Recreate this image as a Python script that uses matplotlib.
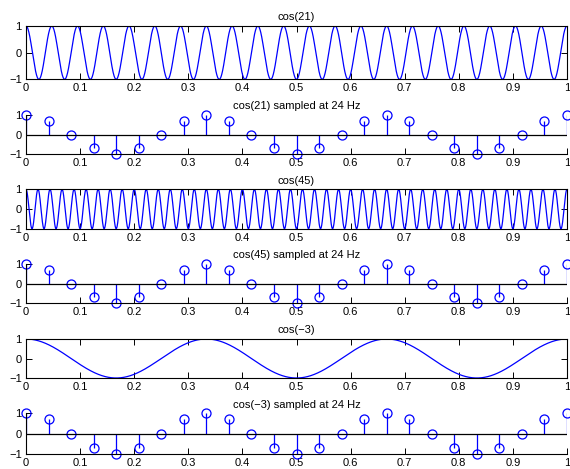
import numpy as np
import matplotlib
matplotlib.use("Agg")
import matplotlib.pyplot as plt

plt.rcParams['font.family'] = ['Liberation Sans', 'DejaVu Sans']
plt.rcParams['axes.unicode_minus'] = True

# Data
frequencies = [21, 45, -3]
curve_titles = ["cos(21)", "cos(45)", "cos(\u22123)"]
sampled_titles = ["cos(21) sampled at 24 Hz", "cos(45) sampled at 24 Hz", "cos(\u22123) sampled at 24 Hz"]
sample_rate = 24
sampled_values = [1, 0.71, 0, -0.71, -1, -0.71, 0, 0.71,
                  1, 0.71, 0, -0.71, -1, -0.71, 0, 0.71,
                  1, 0.71, 0, -0.71, -1, -0.71, 0, 0.71, 1]
x_ticks = [0, 0.1, 0.2, 0.3, 0.4, 0.5, 0.6, 0.7, 0.8, 0.9, 1]
x_tick_labels = ["0", "0.1", "0.2", "0.3", "0.4", "0.5", "0.6", "0.7", "0.8", "0.9", "1"]
y_ticks = [-1, 0, 1]
y_tick_labels = ["\u22121", "0", "1"]

W, H = 570, 469
fig = plt.figure(figsize=(W / 100, H / 100), dpi=100)

left_px, right_px = 26, 567
# (top, bottom) pixel rows of the y-range [-1, 1] for each panel
rows = [(26, 79.3), (115, 154), (189.3, 228.7), (264, 303), (339, 378), (413.3, 454.3)]

BLUE = (0, 0, 1)
FS = 8

def make_ax(top, bottom):
    return fig.add_axes([left_px / W, 1 - bottom / H, (right_px - left_px) / W, (bottom - top) / H])

t = np.linspace(0, 1, 4000)
samp_t = np.arange(len(sampled_values)) / sample_rate

for k in range(3):
    # continuous curve
    ax = make_ax(*rows[2 * k])
    ax.plot(t, np.cos(2 * np.pi * frequencies[k] * t), color=BLUE, lw=0.9)
    ax.set_xlim(0, 1)
    ax.set_ylim(-1, 1)
    ax.set_xticks(x_ticks)
    ax.set_xticklabels(x_tick_labels)
    ax.set_yticks(y_ticks)
    ax.set_yticklabels(y_tick_labels)
    ax.tick_params(direction='in', length=4, width=0.7, labelsize=FS, pad=3,
                   top=True, right=True)
    for s in ax.spines.values():
        s.set_linewidth(0.8)
    ax.set_title(curve_titles[k], fontsize=FS, pad=4)

    # sampled stem
    ax2 = make_ax(*rows[2 * k + 1])
    ml, sl, bl = ax2.stem(samp_t, sampled_values, basefmt='k-')
    plt.setp(sl, color=BLUE, linewidth=0.9)
    plt.setp(ml, color=BLUE, marker='o', markerfacecolor='none', markersize=6.5,
             markeredgewidth=0.9, clip_on=False)
    plt.setp(bl, color='black', linewidth=0.9)
    bl.set_data([0, 1], [0, 0])
    ax2.set_xlim(0, 1)
    ax2.set_ylim(-1, 1)
    ax2.set_xticks(x_ticks)
    ax2.set_xticklabels(x_tick_labels)
    ax2.set_yticks(y_ticks)
    ax2.set_yticklabels(y_tick_labels)
    ax2.spines['top'].set_visible(False)
    ax2.spines['right'].set_visible(False)
    for s in ['left', 'bottom']:
        ax2.spines[s].set_linewidth(0.8)
    ax2.tick_params(direction='in', length=4, width=0.7, labelsize=FS, pad=3)
    ax2.set_title(sampled_titles[k], fontsize=FS, pad=4)

fig.savefig("out.png", dpi=100)
